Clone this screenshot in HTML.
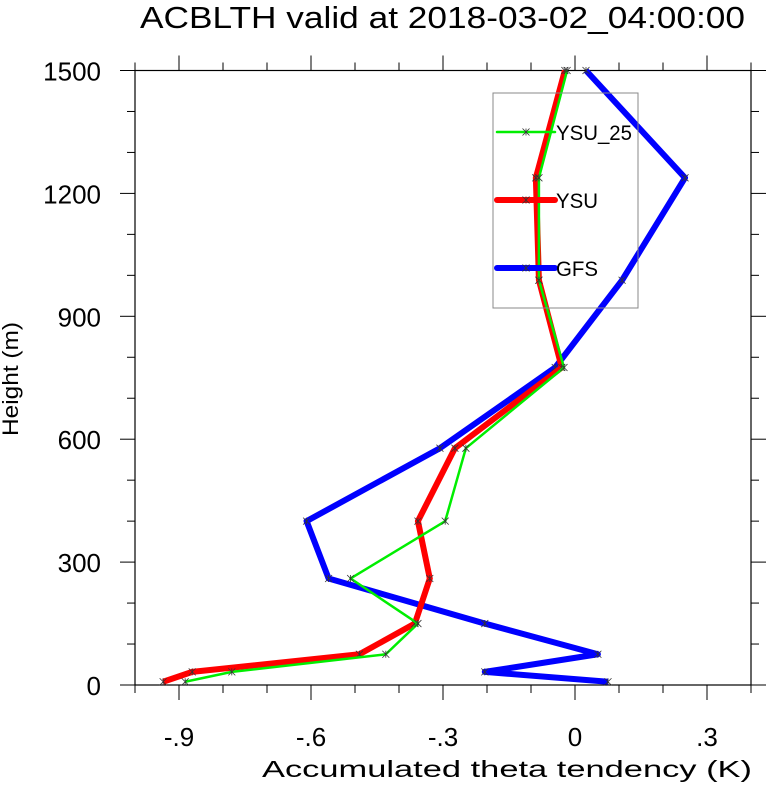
<!DOCTYPE html>
<html><head><meta charset="utf-8"><style>
body{margin:0;background:#fff;}
svg text{font-family:"Liberation Sans",sans-serif;fill:#000;}
</style></head><body>
<svg id="chart" width="766" height="782" viewBox="0 0 766 782" xmlns="http://www.w3.org/2000/svg">
<text x="140" y="28" font-size="31" textLength="605" lengthAdjust="spacingAndGlyphs">ACBLTH valid at 2018-03-02_04:00:00</text>
<g id="axes"></g>
<g id="series"></g>
<g id="legend">
<rect x="493" y="93" width="145" height="215" fill="none" stroke="#888" stroke-width="1"/>
</g>
<text x="18" y="379" font-size="22" text-anchor="middle" textLength="114" lengthAdjust="spacingAndGlyphs" transform="rotate(-90 18 379)">Height (m)</text>
<text x="262" y="777" font-size="23" textLength="490" lengthAdjust="spacingAndGlyphs">Accumulated theta tendency (K)</text>
</svg>
<script>
const heights = [8, 32, 75, 150, 260, 400, 578, 775, 988, 1238, 1500];
const gfs = [0.075, -0.205, 0.052, -0.205, -0.56, -0.61, -0.307, -0.045, 0.107, 0.25, 0.025];
const ysu = [-0.936, -0.87, -0.49, -0.364, -0.33, -0.357, -0.273, -0.03, -0.082, -0.089, -0.023];
const ysu25 = [-0.886, -0.78, -0.43, -0.357, -0.51, -0.295, -0.248, -0.025, -0.082, -0.082, -0.018];
const xTicks = [-0.9, -0.6, -0.3, 0, 0.3];
const xTickLabels = ['-.9', '-.6', '-.3', '0', '.3'];
const yTicks = [0, 300, 600, 900, 1200, 1500];
const yTickLabels = ['0', '300', '600', '900', '1200', '1500'];

const L = 135, R = 751, T = 70.5, B = 685;
const xMin = -1.0, xMax = 0.4, yMin = 0, yMax = 1500;
const sx = v => L + (v - xMin) / (xMax - xMin) * (R - L);
const sy = v => B - (v - yMin) / (yMax - yMin) * (B - T);
const NS = 'http://www.w3.org/2000/svg';
function mk(tag, attrs, parent) {
  const e = document.createElementNS(NS, tag);
  for (const k in attrs) e.setAttribute(k, attrs[k]);
  parent.appendChild(e);
  return e;
}
const axes = document.getElementById('axes');
const frame = mk('rect', {x: L, y: T, width: R - L, height: B - T, fill: 'none', stroke: '#000', 'stroke-width': 1.2}, axes);


for (let i = -10; i <= 4; i++) {
  const v = i / 10, x = sx(v);
  const major = Math.abs(i % 3) === 0;
  const len = major ? 15 : 8;
  mk('line', {x1: x, x2: x, y1: B, y2: B + len, stroke: '#000', 'stroke-width': 1}, axes);
  mk('line', {x1: x, x2: x, y1: T, y2: T - len, stroke: '#000', 'stroke-width': 1}, axes);
}
for (let v = 0; v <= 1500; v += 100) {
  const y = sy(v);
  const len = (v % 300 === 0) ? 15 : 8;
  mk('line', {x1: L, x2: L - len, y1: y, y2: y, stroke: '#000', 'stroke-width': 1}, axes);
  mk('line', {x1: R, x2: R + len, y1: y, y2: y, stroke: '#000', 'stroke-width': 1}, axes);
}
xTicks.forEach((v, i) => {
  const t = mk('text', {x: sx(v), y: 746, 'font-size': 26, 'text-anchor': 'middle'}, axes);
  t.textContent = xTickLabels[i];
  
  
});
yTicks.forEach((v, i) => {
  const t = mk('text', {x: 101, y: sy(v) + 10, 'font-size': 26, 'text-anchor': 'end'}, axes);
  t.textContent = yTickLabels[i];
  
  
});
const seriesG = document.getElementById('series');
function star(g, x, y) {
  const s = 3.5;
  mk('path', {d: `M${x-s},${y-s}L${x+s},${y+s}M${x-s},${y+s}L${x+s},${y-s}M${x},${y-s}L${x},${y+s}`, stroke: '#333', 'stroke-width': 0.8, fill: 'none'}, g);
}
function drawSeries(vals, color, width, name) {
  const g = mk('g', {}, seriesG);
  
  
  const pts = vals.map((v, i) => sx(v) + ',' + sy(heights[i])).join(' ');
  mk('polyline', {points: pts, fill: 'none', stroke: color, 'stroke-width': width, 'stroke-linejoin': 'round'}, g);
  vals.forEach((v, i) => star(g, sx(v), sy(heights[i])));
}
drawSeries(gfs, '#0000ff', 6, 'series-gfs');
drawSeries(ysu, '#ff0000', 6, 'series-ysu');
drawSeries(ysu25, '#00ee00', 2.5, 'series-ysu-25');
const legend = document.getElementById('legend');
[['YSU_25', '#00ee00', 2.5, 132, 76], ['YSU', '#ff0000', 6, 200, 42], ['GFS', '#0000ff', 6, 268, 42]].forEach(e => {
  const g = mk('g', {}, legend);
  
  
  mk('line', {x1: 497, x2: 555, y1: e[3], y2: e[3], stroke: e[1], 'stroke-width': e[2], 'stroke-linecap': 'round'}, g);
  star(g, 526, e[3]);
  const t = mk('text', {x: 556, y: e[3] + 8, 'font-size': 21, textLength: e[4], lengthAdjust: 'spacingAndGlyphs'}, g);
  t.textContent = e[0];
});
</script>
</body></html>
